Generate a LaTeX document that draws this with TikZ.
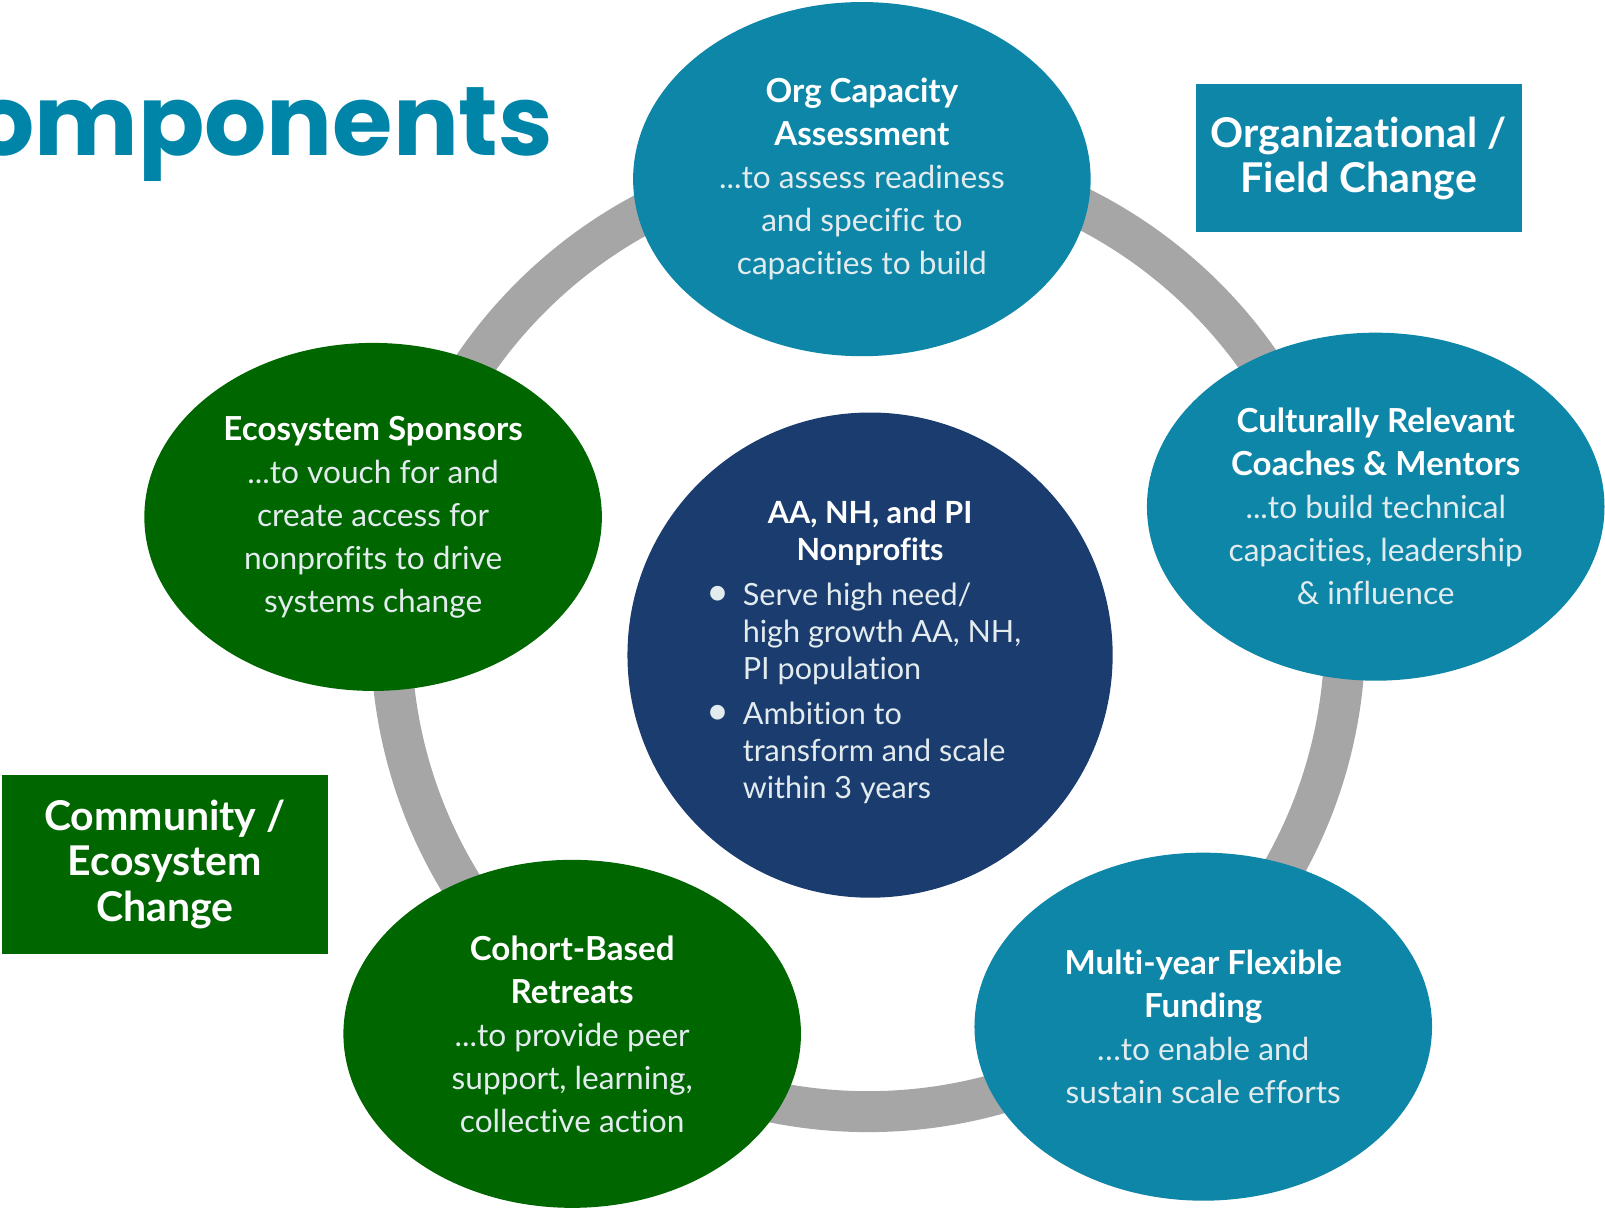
\documentclass[tikz,border=0pt]{standalone}
\usepackage{fontspec}
\setmainfont{Lato}[Ligatures=NoCommon]
\newfontfamily\titlefont{Poppins}
\usetikzlibrary{shapes.geometric,positioning}

\definecolor{compteal}{HTML}{0E86A8}
\definecolor{compgreen}{HTML}{006600}
\definecolor{corenavy}{HTML}{1B3C6E}
\definecolor{ringgray}{HTML}{A6A6A6}
\definecolor{titleteal}{HTML}{0085A9}
\definecolor{litetext}{HTML}{E2EBEE}

\newcommand{\lite}[1]{{\color{litetext}\fontsize{8.8}{11.95}\selectfont#1}}
\newcommand{\dotitem}{\llap{{\fontsize{11}{0}\selectfont\textbullet}\hspace{0.13cm}}}

\tikzset{
    ring/.style={line width=0.40cm, draw=ringgray},
    comp/.style={ellipse, minimum width=4.47cm, minimum height=3.40cm, inner sep=0pt,
        align=center, text=white, font=\fontsize{9.2}{11.95}\selectfont},
    tealcomp/.style={comp, fill=compteal},
    greencomp/.style={comp, fill=compgreen},
    core/.style={circle, minimum size=4.74cm, inner sep=0pt, fill=corenavy},
    coretext/.style={inner sep=0pt, text=white},
    tag/.style={rectangle, inner sep=0pt, align=center, text=white,
        font=\bfseries\fontsize{11.4}{12.6}\selectfont},
    title/.style={anchor=base west, inner sep=0pt, text=titleteal,
        font=\titlefont\bfseries\fontsize{27.2}{28}\selectfont}
}

\begin{document}
\begin{tikzpicture}
    \useasboundingbox (0,0) rectangle (15.68,-11.81);

    % ring behind the components
    \coordinate (hub) at (8.48,-6.20);
    \draw[ring] (hub) circle (4.66);

    % components
    \node[tealcomp, minimum height=3.46cm] (org) at (8.42,-1.75) {\textbf{Org Capacity}\\\textbf{Assessment}\\
        \lite{...to assess readiness}\\\lite{and specific to}\\\lite{capacities to build}};
    \node[tealcomp] (coach) at (13.44,-4.95) {\textbf{Culturally Relevant}\\\textbf{Coaches \& Mentors}\\
        \lite{...to build technical}\\\lite{capacities, leadership}\\\lite{\& influence}};
    \node[tealcomp] (fund) at (11.755,-10.03) {\textbf{Multi-year Flexible}\\\textbf{Funding}\\
        \lite{…to enable and}\\\lite{sustain scale efforts}};
    \node[greencomp] (retreat) at (5.59,-10.10) {\textbf{Cohort-Based}\\\textbf{Retreats}\\
        \lite{...to provide peer}\\\lite{support, learning,}\\\lite{collective action}};
    \node[greencomp] (sponsor) at (3.645,-5.05) {\textbf{Ecosystem Sponsors}\\
        \lite{...to vouch for and}\\\lite{create access for}\\\lite{nonprofits to drive}\\\lite{systems change}};

    % nonprofits in the middle
    \node[core] (core) at (8.50,-6.40) {};
    \node[coretext, align=center, font=\bfseries\fontsize{8.5}{10.24}\selectfont] (coretitle) at (8.50,-5.21)
        {AA, NH, and PI\\Nonprofits};
    \node[coretext, align=left, anchor=north west, text=litetext, font=\fontsize{8.5}{10.24}\selectfont]
        (corelist) at (7.25,-5.69) {\dotitem Serve high need/\\high growth AA, NH,\\PI population\\[0.08cm]
        \dotitem Ambition to\\transform and scale\\within 3 years};

    % change labels
    \node[tag, fill=compteal, minimum width=3.19cm, minimum height=1.45cm] (orgtag) at (13.275,-1.545)
        {Organizational /\\Field Change};
    \node[tag, fill=compgreen, minimum width=3.18cm, minimum height=1.75cm] (commtag) at (1.61,-8.445)
        {Community /\\Ecosystem\\Change};

    \node[title] (title) at (-0.28,-1.52) {omponents};
\end{tikzpicture}
\end{document}
